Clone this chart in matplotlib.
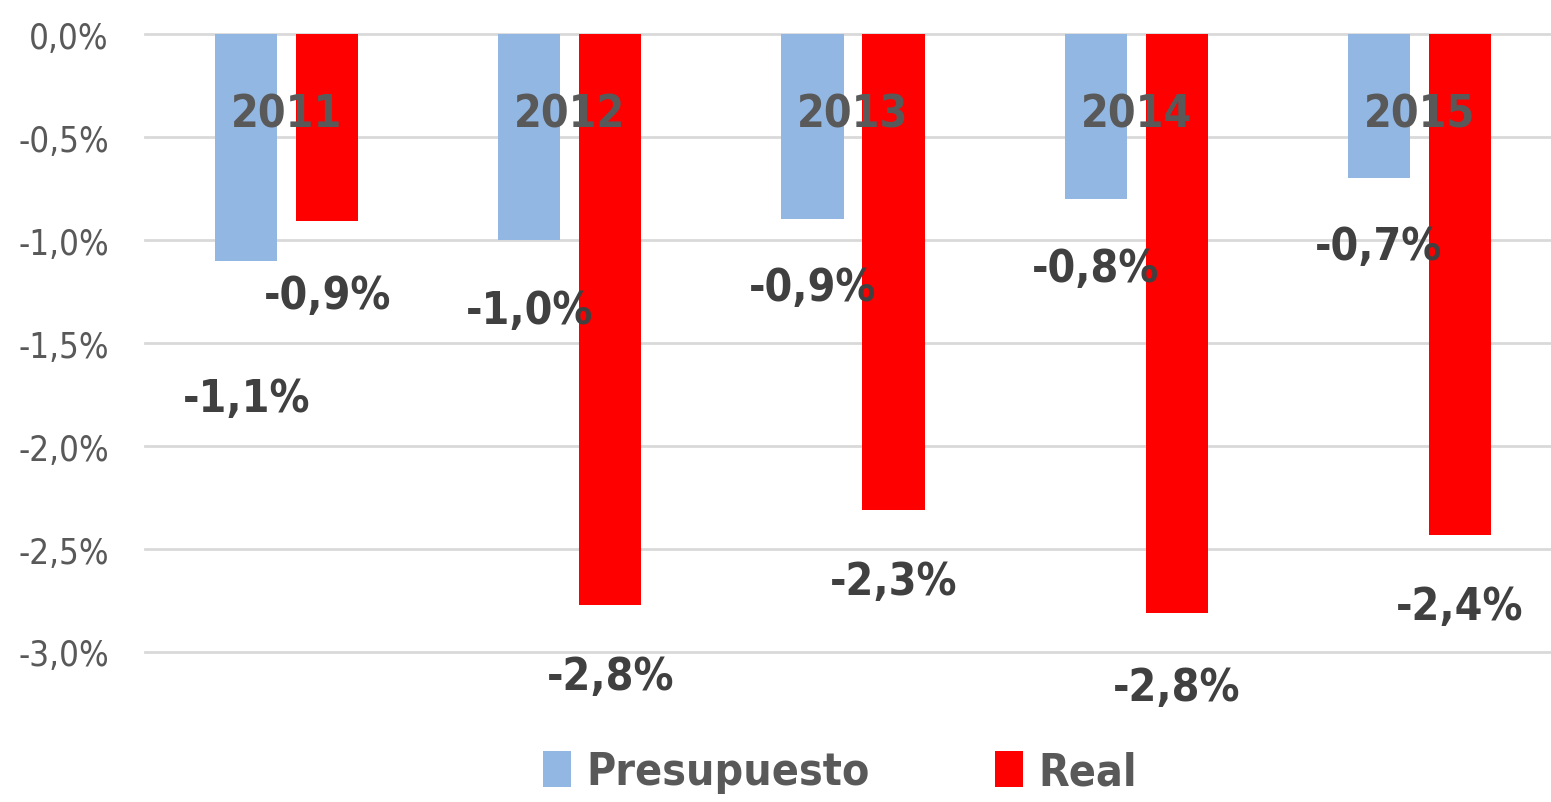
import matplotlib.pyplot as plt
from matplotlib.patches import Patch
import numpy as np

# data
years = ['2011', '2012', '2013', '2014', '2015']
presupuesto = [-1.1, -1.0, -0.9, -0.8, -0.7]
real = [-0.91, -2.77, -2.31, -2.81, -2.43]
presupuesto_labels = ['-1,1%', '-1,0%', '-0,9%', '-0,8%', '-0,7%']
real_labels = ['-0,9%', '-2,8%', '-2,3%', '-2,8%', '-2,4%']
yticks = [0.0, -0.5, -1.0, -1.5, -2.0, -2.5, -3.0]

BLUE = '#93B7E3'
RED = '#FF0000'
GRID = '#D9D9D9'
TXT = '#595959'
LBL = '#404040'

plt.rcParams['font.family'] = ['DejaVu Sans']
plt.rcParams['font.stretch'] = 'condensed'

fig = plt.figure(figsize=(15.51, 8.03), dpi=100)
ax = fig.add_axes([0.0935, 0.1868, 0.913, 0.7696])

x = np.arange(len(years))
w = 0.22
off = 0.143
ax.bar(x - off, presupuesto, w, color=BLUE, zorder=3)
ax.bar(x + off, real, w, color=RED, zorder=3)

ax.set_xlim(-0.5, 4.5)
ax.set_ylim(-3.0, 0.0)
ax.set_yticks(yticks)
ax.set_yticklabels([f'{v:.1f}%'.replace('.', ',') for v in yticks],
                   fontsize=25, color=TXT)
ax.tick_params(axis='y', length=0, pad=26)
ax.set_xticks([])
ax.grid(axis='y', color=GRID, linewidth=2, zorder=0)
for gl in ax.get_ygridlines():
    gl.set_clip_on(False)
for s in ax.spines.values():
    s.set_visible(False)

# category labels drawn inside the plot
for i, yr in enumerate(years):
    ax.text(i, -0.39, yr, ha='center', va='center', fontsize=32,
            fontweight='bold', color=TXT, zorder=5)

# data labels below the bars
drop_p = [0.67, 0.34, 0.33, 0.34, 0.33]
drop_r = [0.36, 0.35, 0.35, 0.36, 0.35]
for i in range(len(years)):
    ax.text(x[i] - off, presupuesto[i] - drop_p[i], presupuesto_labels[i],
            ha='center', va='center', fontsize=32, fontweight='bold',
            color=LBL, zorder=6, clip_on=False)
    ax.text(x[i] + off, real[i] - drop_r[i], real_labels[i],
            ha='center', va='center', fontsize=32, fontweight='bold',
            color=LBL, zorder=6, clip_on=False)

handles = [Patch(facecolor=BLUE, label='Presupuesto'),
           Patch(facecolor=RED, label='Real')]
leg = fig.legend(handles=handles, loc='center', bbox_to_anchor=(0.5416, 0.0374),
                 ncol=2, frameon=False, prop={'size': 32, 'weight': 'bold'},
                 handlelength=0.63, handleheight=0.86, handletextpad=0.35,
                 columnspacing=2.8)
for t in leg.get_texts():
    t.set_color(TXT)

fig.savefig('out.png', dpi=100)
